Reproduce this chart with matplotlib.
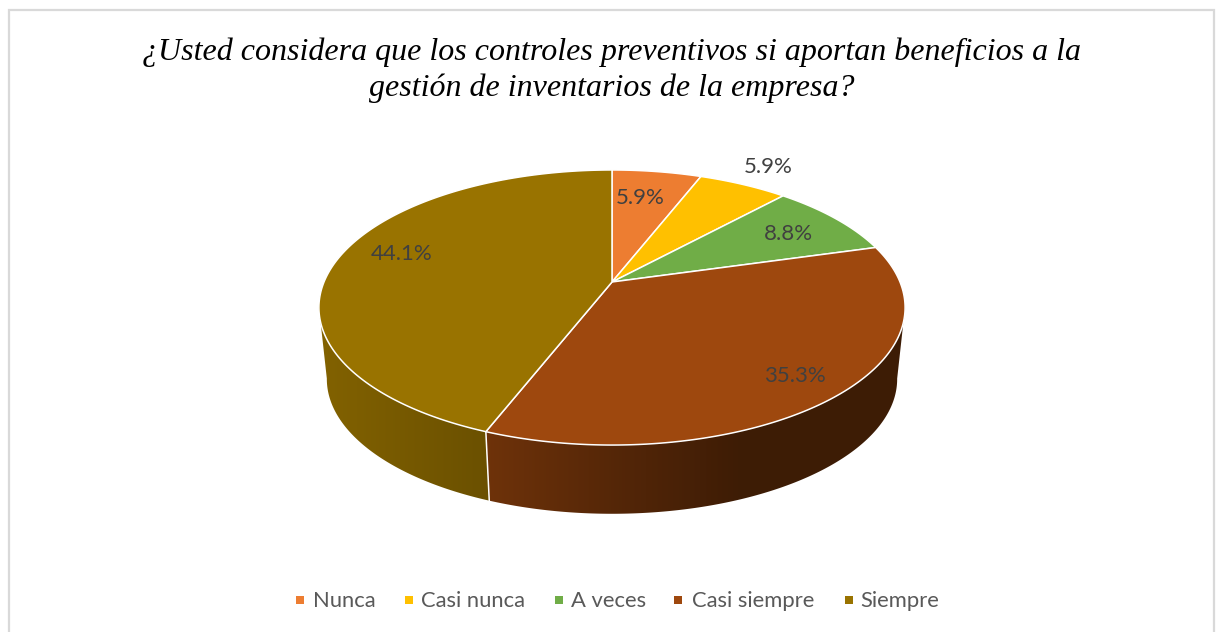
import numpy as np
import matplotlib
matplotlib.use('Agg')
import matplotlib.pyplot as plt
from matplotlib.patches import Rectangle,Polygon

#Data
categories=['Nunca','Casi nunca','A veces','Casi siempre','Siempre']
percent=[5.9,5.9,8.8,35.3,44.1]
colors=['#ED7D31','#FFC000','#70AD47','#9E480E','#997300']
title="¿Usted considera que los controles preventivos si aportan beneficios a la\ngestión de inventarios de la empresa?"

#Label spots in pixels
label_x=[640,768,788,795,402]
label_y=[198,167,234,376,254]
legend_box_x=[300,409,559,678,849]
legend_text_x=[313,421,571,692,860]

#Perspective of the disc, fitted on the picture
cx=612
top_y=282
low_y=354
k=0.1855
c=288
b=132.8

def top_disc(theta):
    x,y=np.sin(theta),np.cos(theta)
    w=1+k*y
    return cx+c*x/w, top_y-b*y/w

def low_disc(theta):
    x,y=np.sin(theta),np.cos(theta)
    w=1+k*y
    return cx+0.973*c*x/w, low_y-0.98*b*y/w

fig=plt.figure(figsize=(12.18,6.32),dpi=100)
ax=fig.add_axes([0,0,1,1])

ax.add_patch(Rectangle((9,10),1205,640,fc='white',ec='#D9D9D9',lw=1.6))

edges=np.radians(np.concatenate([[0],np.cumsum(percent)])*3.6)

#Side of the pie, only the part facing us, darker to the right
side_from=np.radians(100.5)
side_to=np.radians(259.5)
grad_x=np.arange(300,925)
grad_f=np.interp(grad_x,[320,486,620,740,905],[0.85,0.70,0.53,0.39,0.39])
for i in range(len(percent)):
    t1=max(edges[i],side_from)
    t2=min(edges[i+1],side_to)
    if t2<=t1:
        continue
    ts=np.linspace(t1,t2,200)
    xt,yt=top_disc(ts)
    xl,yl=low_disc(ts[::-1])
    poly=Polygon(np.c_[np.r_[xt,xl],np.r_[yt,yl]],closed=True,fc='none',ec='none',transform=ax.transData)
    ax.add_patch(poly)
    rgb=np.array(matplotlib.colors.to_rgb(colors[i]))
    grad=grad_f[None,:,None]*rgb[None,None,:]
    im=ax.imshow(grad,extent=(300,925,530,290),aspect='auto',interpolation='bilinear',zorder=2)
    im.set_clip_path(poly)
    #white seam where two slices meet
    if edges[i+1]<side_to:
        xs0,ys0=top_disc(edges[i+1])
        xs1,ys1=low_disc(edges[i+1])
        ax.plot([xs0,xs1],[ys0,ys1],color='white',lw=1.1,zorder=3)

#Top of the pie
for i in range(len(percent)):
    ts=np.linspace(edges[i],edges[i+1],200)
    xs,ys=top_disc(ts)
    ax.fill(np.r_[cx,xs],np.r_[top_y,ys],fc=colors[i],ec='white',lw=1.1,zorder=4,joinstyle='round')

for i in range(len(percent)):
    ax.text(label_x[i],label_y[i],'%.1f%%'%percent[i],ha='center',va='center',
            family='Lato',fontsize=16,color='#404040',zorder=5)

ax.text(612,70,title,ha='center',va='center',family='Liberation Serif',style='italic',
        fontsize=23.05,color='black',linespacing=1.3)

#Legend
for i in range(len(categories)):
    ax.scatter(legend_box_x[i],600,marker='s',s=33,color=colors[i],lw=0)
    ax.text(legend_text_x[i],601,categories[i],ha='left',va='center',
            family='Lato',fontsize=15.8,color='#595959')

ax.set_xlim(0,1218)
ax.set_ylim(632,0)
ax.axis('off')
fig.savefig('out.png',dpi=100)
